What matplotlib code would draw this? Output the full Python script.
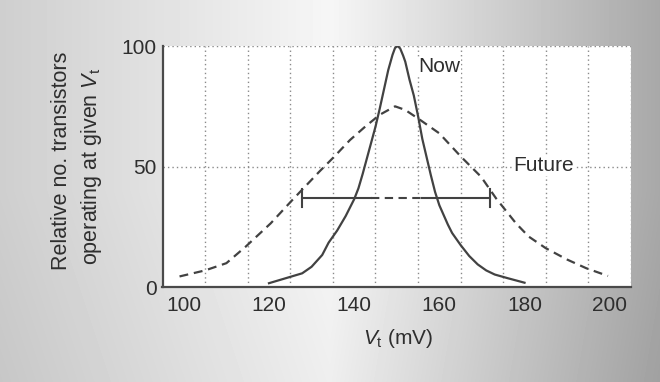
import numpy as np
import matplotlib
matplotlib.use("Agg")
import matplotlib.pyplot as plt

plt.rcParams['font.family'] = ['Liberation Sans', 'DejaVu Sans']
plt.rcParams['mathtext.fontset'] = 'custom'
plt.rcParams['mathtext.rm'] = 'Liberation Sans'
plt.rcParams['mathtext.it'] = 'Liberation Sans:italic'

# ---- data ----
now_x = [120, 124, 127.8, 130, 132.5, 134, 136, 138, 140, 141, 142, 143, 144, 145, 146, 147, 148,
         149, 149.6, 150.2, 150.8, 151.5, 152, 153, 154, 155, 156, 157, 158, 159, 160, 161, 162,
         163, 165, 167, 169, 171, 173, 176, 180]
now_y = [1.7, 3.8, 5.8, 8.5, 13.4, 18.5, 23.5, 29.5, 36.5, 41, 47, 53.5, 60, 66.5, 74, 82, 90,
         96.3, 99.2, 100, 99, 96, 93.5, 86, 79.5, 71, 61.5, 54, 46.5, 39.5, 34, 30, 26,
         22.5, 17.5, 13, 9.5, 7, 5.3, 3.8, 1.9]

future_x = [99, 105, 110, 114.5, 120.4, 125.5, 131.8, 135.3, 139, 142.6, 146, 149.6,
            152, 155.3, 160, 165.1, 169.8, 173.3, 178, 181, 185, 190, 194.5, 199.6]
future_y = [4.5, 7, 10, 16.8, 26.5, 36.2, 47.9, 54.1, 61, 66.6, 71.5, 75,
            73.5, 69.6, 63.8, 54.1, 45.8, 36.9, 26.5, 21, 16.2, 11.5, 7.9, 4.7]

spread_y = 36.9
spread_left, spread_gap_left, spread_gap_right, spread_right = 127.8, 144.0, 156.0, 172.0
spread_cap = 3.8

x_ticks = [100, 120, 140, 160, 180, 200]
y_ticks = [0, 50, 100]
x_grid = [105, 115, 125, 135, 145, 155, 165, 175, 185, 195, 205]
y_grid = [50, 100]

W, H = 660, 382
fig = plt.figure(figsize=(W / 100, H / 100), dpi=100)

# background gradient
bg = fig.add_axes([0, 0, 1, 1], zorder=-10)
xs = np.linspace(0, 1, W)
ys = np.linspace(0, 1, H)
gx = np.interp(xs, [0, 0.5, 1.0], [0.81, 0.965, 0.66])
gy = np.interp(ys, [0, 0.5, 1.0], [0.0, 0.0, 0.03])
img = np.clip(gx[None, :] - gy[:, None], 0, 1)
bg.imshow(img, cmap='gray', vmin=0, vmax=1, aspect='auto', extent=[0, 1, 0, 1])
bg.set_axis_off()

L, R, T, B = 162.5, 631, 46, 287.3
ax = fig.add_axes([L / W, 1 - B / H, (R - L) / W, (B - T) / H])
ax.set_facecolor('white')
ax.set_xlim(95, 205)
ax.set_ylim(0, 100)

gcol = '#8a8a8a'
for g in x_grid:
    ax.axvline(g, color=gcol, lw=1.0, ls=(0, (1, 2.2)), zorder=1)
for g in y_grid:
    ax.axhline(g, color=gcol, lw=1.0, ls=(0, (1, 2.2)), zorder=1)

lc = '#424242'
ax.plot(now_x, now_y, color=lc, lw=1.6, zorder=3)
ax.plot(future_x, future_y, color=lc, lw=1.6, ls=(0, (4, 2.6)), zorder=3)

# spread marker
ax.plot([spread_left, spread_gap_left], [spread_y, spread_y], color=lc, lw=1.5, zorder=3)
ax.plot([spread_gap_left, spread_gap_right], [spread_y, spread_y], color=lc, lw=1.5,
        ls=(0, (4, 2.6)), zorder=3)
ax.plot([spread_gap_right, spread_right], [spread_y, spread_y], color=lc, lw=1.5, zorder=3)
for sx in (spread_left, spread_right):
    ax.plot([sx, sx], [spread_y - spread_cap, spread_y + spread_cap], color=lc, lw=1.5, zorder=3)

tc = '#2e2e2e'
ax.text(155.0, 91.3, 'Now', fontsize=15, color=tc, ha='left', va='center',
        bbox=dict(facecolor='white', edgecolor='none', pad=0.5), zorder=4)
ax.text(177.4, 50.5, 'Future', fontsize=15, color=tc, ha='left', va='center',
        bbox=dict(facecolor='white', edgecolor='none', pad=0.5), zorder=4)

for s in ('top', 'right'):
    ax.spines[s].set_visible(False)
for s in ('left', 'bottom'):
    ax.spines[s].set_color('#4a4a4a')
    ax.spines[s].set_linewidth(1.6)
    ax.spines[s].set_zorder(5)

ax.set_xticks(x_ticks)
ax.set_yticks(y_ticks)
ax.tick_params(axis='x', length=0, pad=6, labelsize=15, labelcolor=tc)
ax.tick_params(axis='y', length=0, pad=4, labelsize=15, labelcolor=tc)

fig.text(398 / W, 1 - 344 / H, r'$V_{\mathrm{t}}$' + ' (mV)', fontsize=15, color=tc,
         ha='center', va='baseline')
fig.text(62 / W, 1 - 160.5 / H, 'Relative no. transistors', fontsize=15.5, color=tc,
         rotation=90, ha='center', va='center')
fig.text(92 / W, 1 - 166 / H, r'operating at given $V_{\mathrm{t}}$', fontsize=15.5, color=tc,
         rotation=90, ha='center', va='center')

fig.savefig('out.png', dpi=100)
